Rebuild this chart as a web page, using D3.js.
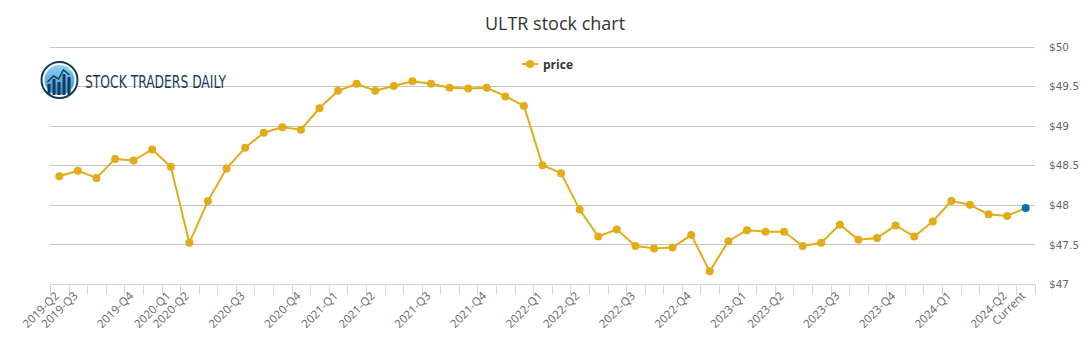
<!DOCTYPE html>
<html><head><meta charset="utf-8">
<script src="https://cdn.jsdelivr.net/npm/d3@7"></script>
<style>body{margin:0;background:#fff;} svg{display:block;}</style>
</head><body>
<svg id="chart" width="1091" height="350"></svg>
<script>
const labels = ["2019-Q2","2019-Q3","","","2019-Q4","","2020-Q1","2020-Q2","","","2020-Q3","","","2020-Q4","","2021-Q1","","2021-Q2","","","2021-Q3","","","2021-Q4","","","2022-Q1","","2022-Q2","","","2022-Q3","","","2022-Q4","","","2023-Q1","","2023-Q2","","","2023-Q3","","","2023-Q4","","","2024-Q1","","","2024-Q2","Current"];
const prices = [48.36,48.43,48.34,48.58,48.56,48.70,48.48,47.52,48.05,48.46,48.72,48.91,48.98,48.95,49.22,49.44,49.53,49.44,49.50,49.56,49.53,49.48,49.47,49.48,49.37,49.25,48.50,48.40,47.94,47.60,47.69,47.48,47.45,47.46,47.62,47.16,47.54,47.68,47.66,47.66,47.48,47.52,47.75,47.56,47.58,47.74,47.60,47.79,48.05,48.00,47.88,47.86,47.96];
const yTicks = [47,47.5,48,48.5,49,49.5,50];
const seriesName = "price";
const title = "ULTR stock chart";

const svg = d3.select("#chart");
const L = 50, R = 1035, T = 46.5, B = 284;
const idx = d3.range(prices.length);
const x = d3.scaleBand().domain(idx).range([L, R]);
const y = d3.scaleLinear().domain([47, 50]).range([B, T]);
const cx = i => x(i) + x.bandwidth() / 2;

// title
svg.append("text").attr("x", 555).attr("y", 30).attr("text-anchor", "middle")
  .attr("font-family", "'Open Sans', sans-serif").attr("font-size", 18).attr("fill", "#333").text(title);

// gridlines
svg.append("g").selectAll("line").data(yTicks.filter(v => v > 47)).join("line")
  .attr("x1", L).attr("x2", R).attr("y1", d => Math.round(y(d)) + 0.5).attr("y2", d => Math.round(y(d)) + 0.5)
  .attr("stroke", "#c4c4c4").attr("stroke-width", 1);

// y axis labels (right)
const yAxis = d3.axisRight(y).tickValues(yTicks).tickSize(0).tickPadding(0).tickFormat(d => "$" + d);
const gy = svg.append("g").attr("transform", `translate(1049,0)`).call(yAxis);
gy.select(".domain").remove();
gy.selectAll("text").attr("font-family", "'DejaVu Sans', sans-serif").attr("font-size", 10.5).attr("fill", "#666").attr("dy", "0.35em");

// x axis
const gx = svg.append("g").attr("transform", `translate(0,${B + 0.5})`);
gx.append("line").attr("x1", L).attr("x2", R + 1).attr("stroke", "#ccd6eb");
gx.selectAll("line.tick").data(d3.range(prices.length + 1)).join("line").attr("class", "tick")
  .attr("x1", i => Math.round(L + i * x.step()) + 0.5).attr("x2", i => Math.round(L + i * x.step()) + 0.5)
  .attr("y1", 0).attr("y2", 10).attr("stroke", "#ccd6eb");
gx.selectAll("text").data(idx.filter(i => labels[i] !== "")).join("text")
  .attr("transform", i => `translate(${cx(i) + 0.5},${12}) rotate(-45)`)
  .attr("text-anchor", "end").attr("font-family", "'Open Sans', sans-serif").attr("font-size", 11.5).attr("fill", "#666")
  .text(i => labels[i]);

// logo
const logo = svg.append("g").attr("transform", "translate(59.5,80)");
const grad = svg.append("defs").append("linearGradient").attr("id", "lg").attr("x1", 0).attr("y1", 0).attr("x2", 0).attr("y2", 1);
grad.append("stop").attr("offset", "0").attr("stop-color", "#8fd3f7");
grad.append("stop").attr("offset", "1").attr("stop-color", "#2a8fd0");
logo.append("circle").attr("r", 18).attr("fill", "#fff").attr("stroke", "#163b5a").attr("stroke-width", 2);
logo.append("circle").attr("r", 15).attr("fill", "url(#lg)");
[[-12,4,3],[-7,-1,3],[-2,2,3],[3,-6,3],[8,-3,3]].forEach(([bx,by,w]) => {
  logo.append("rect").attr("x", bx).attr("y", by).attr("width", w).attr("height", 15 - by).attr("fill", "#163b5a");
});
logo.append("polyline").attr("points", "-12,2 -6,-4 -1,-1 4,-10 10,-5").attr("fill", "none").attr("stroke", "#163b5a").attr("stroke-width", 1.5);
logo.append("text").attr("x", 25.5).attr("y", 8).attr("font-family", "'Liberation Sans Narrow', 'DejaVu Sans Condensed', sans-serif")
  .attr("font-stretch", "condensed").attr("font-size", 18).attr("fill", "#163b5a").attr("textLength", 141).attr("lengthAdjust", "spacingAndGlyphs")
  .text("STOCK TRADERS DAILY");

// line
const color = "#e3ab17";
svg.append("path").datum(idx).attr("fill", "none").attr("stroke", color).attr("stroke-width", 2)
  .attr("stroke-linejoin", "round").attr("d", d3.line().x(i => cx(i)).y(i => y(prices[i])));
svg.append("g").selectAll("circle").data(idx).join("circle")
  .attr("cx", i => cx(i)).attr("cy", i => y(prices[i])).attr("r", 4)
  .attr("fill", i => i === prices.length - 1 ? "#0b6fae" : color);

// legend
const lg = svg.append("g").attr("transform", "translate(522,64)");
lg.append("line").attr("x1", 0).attr("x2", 16).attr("stroke", color).attr("stroke-width", 2);
lg.append("circle").attr("cx", 8).attr("r", 4).attr("fill", color);
lg.append("text").attr("x", 21).attr("y", 4.5).attr("font-family", "'Open Sans', sans-serif").attr("font-size", 12)
  .attr("font-weight", "bold").attr("fill", "#333").text(seriesName);
</script>
</body></html>
